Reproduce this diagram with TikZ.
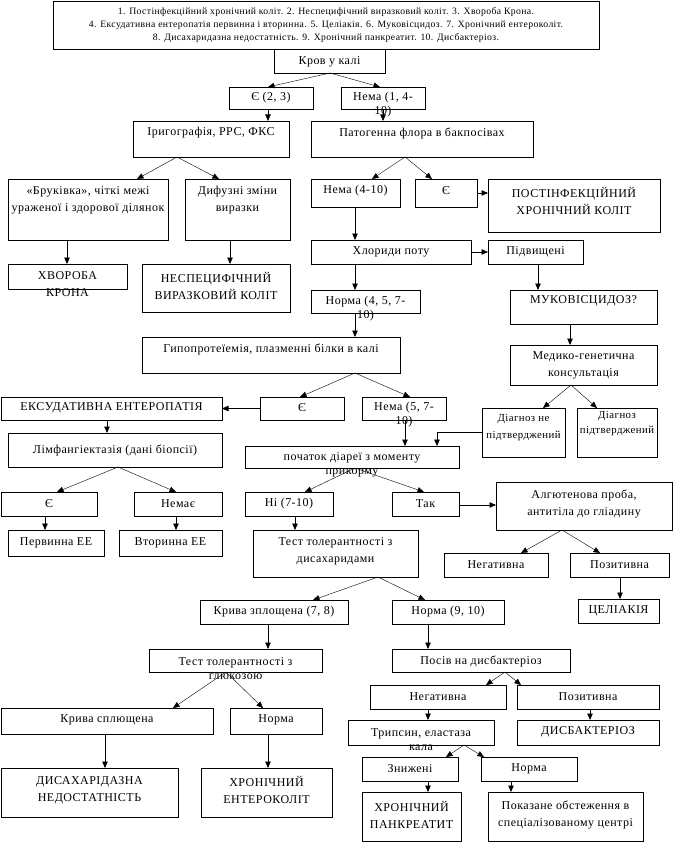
\documentclass[tikz,border=0pt]{standalone}
\usepackage{fontspec}
\setmainfont{Liberation Serif}[LetterSpace=4]
\usetikzlibrary{arrows.meta,calc}
\newcommand\bx[7]{%
  \node[box, minimum width={(#4-#2)*1pt}, minimum height={(#5-#3)*1pt}] (#1) at ({(#2+#4)/2},{(#3+#5)/2}) {};
  \node[txt] (#1-t) at ({(#2+#4)/2},#6) {#7};}
\newcommand\varr[3]{\path (#3,0) coordinate (vx); \draw[arr] (#1.south -| vx) -- (#2.north -| vx);}
\newcommand\darr[4]{\path (#2,0) coordinate (pa) (#4,0) coordinate (pb); \draw[darr] (#1.south -| pa) -- (#3.north -| pb);}
\newcommand\harr[3]{\path (0,#3) coordinate (hy); \draw[arr] (#1.east |- hy) -- (#2.west |- hy);}
\newcommand\smalltxt{\fontsize{10.8}{16}\selectfont}
\begin{document}
\begin{tikzpicture}[x=1pt,y=-1pt,
  box/.style={draw, line width=0.8pt, rectangle, inner sep=0pt, outer sep=0pt},
  txt/.style={align=center, inner sep=0pt, font=\fontsize{12}{17}\selectfont},
  arr/.style={-{Triangle[length=6.5pt,width=5.5pt]}, line width=0.6pt},
  darr/.style={arr, line width=0.4pt}]
\useasboundingbox[fill=white] (0,0) rectangle (674,842);
% boxes
\node[box, minimum width=546pt, minimum height=48pt] (top) at (326,25) {};
\node[txt, font=\fontsize{9.7}{13}\selectfont] (top-t) at (326,25) {1. Постінфекційний хронічний коліт. 2. Неспецифічний виразковий коліт. 3. Хвороба Крона.\\4. Ексудативна ентеропатія первинна і вторинна. 5. Целіакія. 6. Муковісцидоз. 7. Хронічний ентероколіт.\\8. Дисахаридазна недостатність. 9. Хронічний панкреатит. 10. Дисбактеріоз.};
\bx{krov}{274}{49}{385}{73}{62}{Кров у калі}
\bx{ye1}{229}{87}{313}{109}{98}{Є (2, 3)}
\bx{nema1}{341}{87}{425}{109}{105}{Нема (1, 4-\\[-3pt]10)}
\bx{irig}{133}{121}{289}{157}{133}{Іригографія, РРС, ФКС}
\bx{pat}{311}{121}{533}{157}{133}{Патогенна флора в бакпосівах}
\bx{bruk}{8}{179}{168}{240}{200}{«Бруківка», чіткі межі\\ураженої і здорової ділянок}
\bx{dyf}{185}{179}{290}{240}{200}{Дифузні зміни\\виразки}
\bx{krona}{8}{264}{127}{289}{284}{ХВОРОБА\\КРОНА}
\bx{nespec}{142}{264}{290}{312}{286}{НЕСПЕЦИФІЧНИЙ\\ВИРАЗКОВИЙ КОЛІТ}
\bx{nema2}{311}{179}{400}{207}{191}{Нема (4-10)}
\bx{ye2}{415}{179}{477}{207}{191}{Є}
\bx{post}{488}{179}{660}{232}{201}{ПОСТІНФЕКЦІЙНИЙ\\ХРОНІЧНИЙ КОЛІТ}
\bx{hlor}{311}{240}{471}{264}{252}{Хлориди поту}
\bx{pidv}{488}{240}{583}{264}{252}{Підвищені}
\bx{muko}{510}{290}{657}{324}{301}{МУКОВІСЦИДОЗ?}
\bx{norma1}{311}{290}{420}{313}{309}{Норма (4, 5, 7-\\[-3pt]10)}
\bx{hypo}{142}{337}{400}{373}{349}{Гипопротеїемія, плазменні білки в калі}
\bx{med}{510}{345}{657}{385}{365}{Медико-генетична\\консультація}
\bx{dn}{482}{408}{565}{457}{428}{\smalltxt Діагноз не\\\smalltxt підтверджений}
\bx{dp}{577}{408}{657}{457}{424}{\smalltxt Діагноз\\[-2pt]\smalltxt підтверджений}
\bx{ye3}{260}{397}{344}{420}{408}{Є}
\bx{nema3}{362}{397}{446}{420}{415}{Нема (5, 7-\\[-3pt]10)}
\bx{eksud}{1}{397}{222}{420}{408}{ЕКСУДАТИВНА ЕНТЕРОПАТІЯ}
\bx{limf}{8}{433}{222}{467}{450}{Лімфангіектазія (дані біопсії)}
\bx{poch}{245}{446}{459}{468}{465}{початок діареї з моменту\\[-3pt]прикорму}
\bx{ye4}{1}{492}{97}{516}{504}{Є}
\bx{nemae}{134}{492}{222}{516}{504}{Немає}
\bx{perv}{8}{530}{104}{556}{543}{Первинна ЕЕ}
\bx{vtor}{119}{530}{222}{556}{543}{Вторинна ЕЕ}
\bx{ni}{245}{492}{333}{516}{504}{Ні (7-10)}
\bx{tak}{392}{492}{459}{516}{504}{Так}
\bx{alg}{496}{482}{672}{530}{504}{Алгютенова проба,\\антитіла до гліадину}
\bx{test1}{253}{530}{418}{577}{551}{Тест толерантності з\\дисахаридами}
\bx{neg1}{444}{553}{548}{577}{565}{Негативна}
\bx{poz1}{570}{553}{669}{577}{565}{Позитивна}
\bx{cel}{578}{599}{659}{623}{611}{ЦЕЛІАКІЯ}
\bx{kriva1}{200}{600}{348}{624}{612}{Крива зплощена (7, 8)}
\bx{norma2}{392}{600}{504}{624}{612}{Норма (9, 10)}
\bx{test2}{149}{649}{322}{672}{669}{Тест толерантності з\\[-3pt]глюкозою}
\bx{posiv}{392}{649}{570}{672}{661}{Посів на дисбактеріоз}
\bx{kriva2}{1}{708}{213}{734}{720}{Крива сплющена}
\bx{norma3}{230}{708}{322}{734}{720}{Норма}
\bx{disah}{1}{768}{178}{817}{790}{ДИСАХАРІДАЗНА\\НЕДОСТАТНІСТЬ}
\bx{enter}{201}{768}{332}{817}{790}{ХРОНІЧНИЙ\\ЕНТЕРОКОЛІТ}
\bx{neg2}{370}{685}{506}{709}{697}{Негативна}
\bx{poz2}{517}{685}{659}{709}{697}{Позитивна}
\bx{trip}{348}{720}{494}{745}{740}{Трипсин, еластаза\\[-3pt]кала}
\bx{disb}{517}{720}{659}{745}{732}{ДИСБАКТЕРІОЗ}
\bx{zn}{362}{757}{458}{781}{769}{Знижені}
\bx{norma4}{481}{757}{577}{781}{769}{Норма}
\bx{panc}{362}{792}{461}{841}{815}{ХРОНІЧНИЙ\\ПАНКРЕАТИТ}
\bx{pokaz}{488}{792}{643}{841}{815}{Показане обстеження в\\спеціалізованому центрі}
% connectors
\darr{krov}{330}{ye1}{268}
\darr{krov}{330}{nema1}{380}
\varr{ye1}{irig}{268}
\varr{nema1}{pat}{383}
\darr{irig}{177}{bruk}{137}
\darr{irig}{177}{dyf}{219}
\darr{pat}{405}{nema2}{372}
\darr{pat}{405}{ye2}{432}
\harr{ye2}{post}{193}
\varr{bruk}{krona}{67}
\varr{dyf}{nespec}{230}
\varr{nema2}{hlor}{355}
\harr{hlor}{pidv}{252}
\varr{pidv}{muko}{538}
\varr{hlor}{norma1}{355}
\varr{norma1}{hypo}{355}
\varr{muko}{med}{570}
\darr{med}{571}{dn}{543}
\darr{med}{571}{dp}{597}
\darr{hypo}{355}{ye3}{300}
\darr{hypo}{355}{nema3}{410}
\draw[arr] (ye3.west) -- (eksud.east);
\varr{eksud}{limf}{107}
\varr{nema3}{poch}{405}
\path (437,0) coordinate (dnx) (0,432) coordinate (dny);
\draw[arr] (dn.west |- dny) -| (poch.north -| dnx);
\darr{limf}{118}{ye4}{57}
\darr{limf}{118}{nemae}{176}
\varr{ye4}{perv}{45}
\varr{nemae}{vtor}{176}
\darr{poch}{355}{ni}{305}
\darr{poch}{355}{tak}{424}
\harr{tak}{alg}{505}
\varr{ni}{test1}{295}
\darr{alg}{562}{neg1}{521}
\darr{alg}{562}{poz1}{600}
\varr{poz1}{cel}{620}
\darr{test1}{378}{kriva1}{313}
\darr{test1}{378}{norma2}{425}
\varr{kriva1}{test2}{268}
\varr{norma2}{posiv}{428}
\darr{test2}{226}{kriva2}{173}
\darr{test2}{226}{norma3}{263}
\varr{kriva2}{disah}{105}
\varr{norma3}{enter}{268}
\darr{posiv}{505}{neg2}{486}
\darr{posiv}{505}{poz2}{521}
\varr{neg2}{trip}{428}
\varr{poz2}{disb}{590}
\darr{trip}{464}{zn}{446}
\darr{trip}{464}{norma4}{484}
\varr{zn}{panc}{428}
\varr{norma4}{pokaz}{511}
\end{tikzpicture}
\end{document}
